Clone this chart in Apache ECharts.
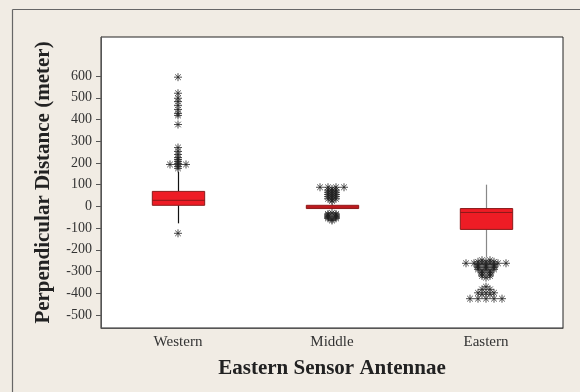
<!DOCTYPE html>
<html><head><meta charset="utf-8">
<script src="https://cdn.jsdelivr.net/npm/echarts@6/dist/echarts.min.js"></script>
<style>html,body{margin:0;padding:0;background:#f1ece4}#c{width:580px;height:392px}</style>
</head><body><div id="c"></div>
<script>
const categories = ['Western', 'Middle', 'Eastern'];
// [min whisker, Q1, median, Q3, max whisker]
const boxStats = [
  [-78, 5, 28, 69, 160],
  [-12, -10, -3, 5, 8],
  [-235, -106, -28, -10, 100]
];
const outliersWestern = [595, 521, 498, 483, 465, 446, 428, 419, 377, 271, 253, 239, 225, 216, 207, 198, 193, 193, 193, 184, 175, -124];
const outliersMiddle = [88, 88, 88, 88, 80, 75, 75, 70, 65, 65, 60, 55, 55, 50, 45, 45, 40, 35, 35, 30, 25,
  -30, -35, -35, -40, -40, -45, -45, -50, -50, -55, -55, -60, -65];
const outliersEastern = [-248, -248, -255, -255, -255, -262, -262, -262, -262, -262, -262, -268, -268, -268,
  -275, -275, -275, -282, -282, -282, -290, -290, -290, -297, -297, -305, -305, -312, -312, -320, -320, -328,
  -370, -382, -382, -398, -398, -398, -405, -405, -425, -425, -425, -425, -425];
const yTicks = [-500, -400, -300, -200, -100, 0, 100, 200, 300, 400, 500, 600];
const whiskerColors = ['#111', '#111', '#888'];

const outlierLists = [outliersWestern, outliersMiddle, outliersEastern];
const scatterData = [];
outlierLists.forEach((list, ci) => {
  const counts = {};
  list.forEach(v => counts[v] = (counts[v] || 0) + 1);
  const seen = {};
  list.forEach(v => {
    const n = counts[v];
    const i = seen[v] = (seen[v] === undefined ? 0 : seen[v] + 1);
    scatterData.push({ value: [ci, v], symbolOffset: [(i - (n - 1) / 2) * 8, 0] });
  });
});

const chart = echarts.init(document.getElementById('c'), null, { renderer: 'canvas' });
const serif = '"Liberation Serif", "DejaVu Serif", serif';
chart.setOption({
  backgroundColor: '#f1ece4',
  animation: false,
  graphic: [
    { type: 'line', shape: { x1: 12.5, y1: 9.5, x2: 580, y2: 9.5 }, style: { stroke: '#666', lineWidth: 1.2 } },
    { type: 'line', shape: { x1: 12.5, y1: 9.5, x2: 12.5, y2: 392 }, style: { stroke: '#666', lineWidth: 1.2 } }
  ],
  grid: { left: 101, right: 17, top: 37, bottom: 64, show: true, backgroundColor: '#fff', borderColor: '#222', borderWidth: 1 },
  xAxis: {
    type: 'category', data: categories, boundaryGap: true,
    name: 'Eastern Sensor Antennae', nameLocation: 'middle', nameGap: 30,
    nameTextStyle: { fontFamily: serif, fontWeight: 'bold', fontSize: 21, color: '#222' },
    axisLine: { onZero: false, lineStyle: { color: '#555' } },
    axisTick: { alignWithLabel: true, length: 4, lineStyle: { color: '#555' } },
    axisLabel: { fontFamily: serif, fontSize: 15, color: '#333', margin: 7 }
  },
  yAxis: {
    type: 'value', min: -560, max: 780,
    name: 'Perpendicular Distance (meter)', nameLocation: 'middle', nameGap: 47,
    nameTextStyle: { fontFamily: serif, fontWeight: 'bold', fontSize: 21, color: '#222' },
    axisLine: { show: true, lineStyle: { color: '#555' } },
    axisTick: { show: true, length: 5, customValues: yTicks, lineStyle: { color: '#555' } },
    axisLabel: { fontFamily: serif, fontSize: 14, color: '#333', margin: 9, customValues: yTicks },
    splitLine: { show: false }
  },
  series: [
    {
      type: 'custom',
      data: boxStats.map((s, i) => [i].concat(s)),
      renderItem: function (params, api) {
        const ci = api.value(0);
        const pMin = api.coord([ci, api.value(1)]);
        const pQ1 = api.coord([ci, api.value(2)]);
        const pMed = api.coord([ci, api.value(3)]);
        const pQ3 = api.coord([ci, api.value(4)]);
        const pMax = api.coord([ci, api.value(5)]);
        const bw = api.size([1, 0])[0] * 0.34;
        const x = Math.round(pQ1[0]) + 0.5;
        const wc = whiskerColors[ci];
        return {
          type: 'group',
          children: [
            { type: 'line', shape: { x1: x, y1: pMax[1], x2: x, y2: pQ3[1] }, style: { stroke: wc, lineWidth: 1.2 } },
            { type: 'line', shape: { x1: x, y1: pQ1[1], x2: x, y2: pMin[1] }, style: { stroke: wc, lineWidth: 1.2 } },
            { type: 'rect', shape: { x: x - bw / 2, y: pQ3[1], width: bw, height: pQ1[1] - pQ3[1] },
              style: { fill: '#ee1c25', stroke: '#8a1a1a', lineWidth: 1 } },
            { type: 'line', shape: { x1: x - bw / 2, y1: pMed[1], x2: x + bw / 2, y2: pMed[1] }, style: { stroke: '#8a1a1a', lineWidth: 1 } }
          ]
        };
      },
      z: 2
    },
    {
      type: 'scatter',
      data: scatterData,
      symbol: 'path://M0,5L10,5M5,0L5,10M1.5,1.5L8.5,8.5M8.5,1.5L1.5,8.5',
      symbolSize: 8,
      itemStyle: { color: 'none', borderColor: '#222', borderWidth: 1 },
      z: 3
    }
  ]
});
</script>
</body></html>
